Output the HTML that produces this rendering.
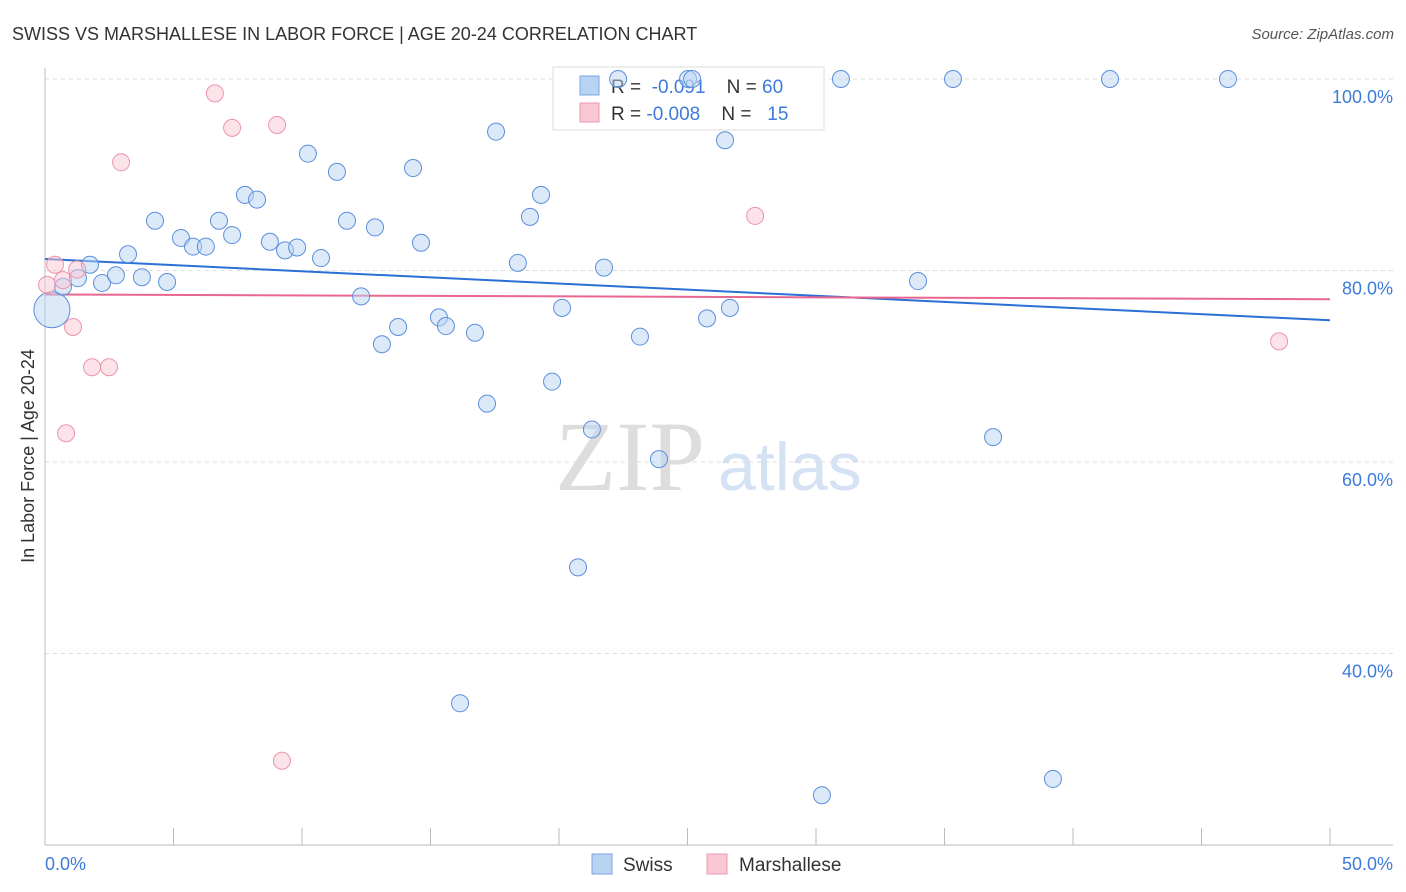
<!DOCTYPE html>
<html><head><meta charset="utf-8"><style>
body{margin:0;background:#fff;font-family:"Liberation Sans",sans-serif;}
svg{display:block}
</style></head><body>
<svg id="chart" width="1406" height="892">
<text x="12" y="40" font-size="18" fill="#333">SWISS VS MARSHALLESE IN LABOR FORCE | AGE 20-24 CORRELATION CHART</text>
<text x="1394" y="39" font-size="15" fill="#555" font-style="italic" text-anchor="end">Source: ZipAtlas.com</text>
<text x="555" y="490" font-size="100" fill="#ddd" font-family="Liberation Serif">ZIP</text>
<text x="718" y="490" font-size="68" fill="#d4e2f4">atlas</text>
<g id="grid"></g><g id="axes"></g>
<g>
<rect x="553" y="67" width="271" height="63" fill="#fff" stroke="#ddd"/>
<rect x="580" y="76" width="19" height="19" fill="#b9d3f3" stroke="#7aa5e0"/>
<rect x="580" y="103" width="19" height="19" fill="#f9c6d4" stroke="#ee9ab2"/>
<text x="611" y="93" font-size="19" fill="#333" xml:space="preserve">R =  <tspan fill="#3d7bd9">-0.091</tspan>    N = <tspan fill="#3d7bd9">60</tspan></text>
<text x="611" y="120" font-size="19" fill="#333" xml:space="preserve">R = <tspan fill="#3d7bd9">-0.008</tspan>    N =  <tspan fill="#3d7bd9"> 15</tspan></text>
</g>
<g id="lines"></g><g id="pts"></g>
<text transform="translate(34,456) rotate(-90)" font-size="18" fill="#333" text-anchor="middle">In Labor Force | Age 20-24</text>
<text x="45" y="870" font-size="18" fill="#3d7bd9">0.0%</text>
<text x="1393" y="870" font-size="18" fill="#3d7bd9" text-anchor="end">50.0%</text>
<g>
<rect x="592" y="854" width="20" height="20" fill="#b9d3f3" stroke="#7aa5e0"/>
<text x="623" y="871" font-size="19" fill="#333">Swiss</text>
<rect x="707" y="854" width="20" height="20" fill="#f9c6d4" stroke="#ee9ab2"/>
<text x="739" y="871" font-size="19" fill="#333">Marshallese</text>
</g>
</svg>
<script>
const yTicks=[100,80,60,40];
const yTickLabels=["100.0%","80.0%","60.0%","40.0%"];
const xTicks=[0,5,10,15,20,25,30,35,40,45,50];
const swissX=[0.27,0.70,1.28,1.75,2.22,2.76,3.23,3.77,4.28,4.75,5.29,5.76,6.26,6.77,7.28,7.78,8.25,8.75,9.34,9.81,10.23,10.74,11.36,11.75,12.30,12.84,13.11,13.74,14.32,14.63,15.33,15.60,16.15,16.73,17.20,17.55,18.40,18.87,19.30,19.73,20.12,20.74,21.28,21.75,22.30,23.15,23.89,25.02,25.18,25.76,26.46,26.65,30.23,30.97,33.97,35.33,36.89,39.22,41.44,46.03];
const swissY=[75.9,78.3,79.2,80.6,78.7,79.5,81.7,79.3,85.2,78.8,83.4,82.5,82.5,85.2,83.7,87.9,87.4,83.0,82.1,82.4,92.2,81.3,90.3,85.2,77.3,84.5,72.3,74.1,90.7,82.9,75.1,74.2,34.8,73.5,66.1,94.5,80.8,85.6,87.9,68.4,76.1,49.0,63.4,80.3,100,73.1,60.3,100,100,75.0,93.6,76.1,25.2,100,78.9,100,62.6,26.9,100,100];
const marX=[0.08,0.39,0.70,1.09,1.25,0.82,1.83,2.49,2.96,6.61,7.28,9.03,9.22,27.63,48.02];
const marY=[78.5,80.6,79.0,74.1,80.1,63.0,69.9,69.9,91.3,98.5,94.9,95.2,28.8,85.7,72.6];
const swissTrend=[81.2,74.8];
const marTrend=[77.5,77.0];
const NS="http://www.w3.org/2000/svg";
const sx=v=>45+v/50*1285;
const sy=v=>79+(100-v)*9.575;
function mk(tag,attrs,parent){const e=document.createElementNS(NS,tag);for(const k in attrs)e.setAttribute(k,attrs[k]);document.getElementById(parent).appendChild(e);return e;}
yTicks.forEach((t,i)=>{
 const l=mk('line',{x1:45,x2:1393,y1:sy(t),y2:sy(t),stroke:'#ddd','stroke-dasharray':'4,4'},'grid');
 
 
 const tx=mk('text',{x:1393,y:sy(t)+24,'font-size':18,fill:'#3d7bd9','text-anchor':'end'},'grid');
 tx.textContent=yTickLabels[i];
 
 
});
const ax=mk('line',{x1:45,x2:45,y1:68,y2:845,stroke:'#bbb'},'axes');


const bx=mk('line',{x1:45,x2:1393,y1:845,y2:845,stroke:'#bbb'},'axes');


xTicks.forEach(t=>{
 const l=mk('line',{x1:sx(t),x2:sx(t),y1:828,y2:845,stroke:'#bbb'},'axes');
 
 
});
function pts(X,Y,fill,stroke,name){
 X.forEach((x,i)=>{
  const r=(name==='swiss-point'&&i===0)?18:8.5;
  const c=mk('circle',{cx:sx(x),cy:sy(Y[i]),r:r,fill:fill,'fill-opacity':0.5,stroke:stroke,'stroke-width':1},'pts');
  
  
 });
}
pts(swissX,swissY,'#b9d3f3','#5b8fdc','swiss-point');
pts(marX,marY,'#f9c6d4','#ec94ad','marshallese-point');
const t1=mk('line',{x1:sx(0),x2:sx(50),y1:sy(swissTrend[0]),y2:sy(swissTrend[1]),stroke:'#2a6fd6','stroke-width':2},'lines');


const t2=mk('line',{x1:sx(0),x2:sx(50),y1:sy(marTrend[0]),y2:sy(marTrend[1]),stroke:'#e9678e','stroke-width':2},'lines');


</script>
</body></html>
